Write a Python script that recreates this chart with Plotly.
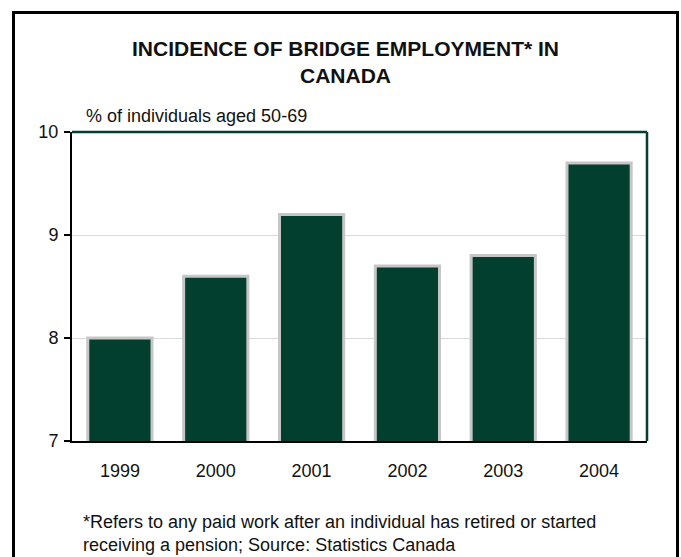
import plotly.graph_objects as go

years = ["1999", "2000", "2001", "2002", "2003", "2004"]
incidence = [8.0, 8.6, 9.2, 8.7, 8.8, 9.7]

title_text = "<b>INCIDENCE OF BRIDGE EMPLOYMENT* IN<br>CANADA</b>"
unit_text = "% of individuals aged 50-69"
note_text = ("*Refers to any paid work after an individual has retired or started<br>"
             "receiving a pension; Source: Statistics Canada")

GREEN = "#023f2f"
FONT = "Liberation Sans, Arial, sans-serif"

fig = go.Figure(
    go.Bar(
        x=years,
        y=incidence,
        width=0.67,
        marker=dict(color=GREEN, line=dict(color="#c6c6c6", width=3)),
        hoverinfo="x+y",
    )
)

W, H = 681, 557
L, R, T, B = 72, 34, 132, 116
pw, ph = W - L - R, H - T - B


def px_x(px):
    return (px - L) / pw


def px_y(py):
    return (H - B - py) / ph


fig.update_layout(
    width=W,
    height=H,
    margin=dict(l=L, r=R, t=T, b=B),
    paper_bgcolor="white",
    plot_bgcolor="white",
    showlegend=False,
    font=dict(family=FONT, size=18, color="#111111"),
    bargap=0.33,
    xaxis=dict(
        type="category",
        showline=True,
        linecolor="black",
        linewidth=2,
        ticks="",
        showgrid=False,
        tickfont=dict(size=18),
        ticklabelstandoff=12,
    ),
    yaxis=dict(
        range=[7, 10],
        dtick=1,
        showline=True,
        linecolor="black",
        linewidth=2,
        ticks="outside",
        ticklen=6,
        tickwidth=1.5,
        tickcolor="black",
        showgrid=True,
        gridcolor="#d9d9d9",
        gridwidth=1,
        zeroline=False,
        tickfont=dict(size=18),
        ticklabelstandoff=2,
    ),
    shapes=[
        # top and right edges of the plotting area
        dict(type="line", xref="paper", yref="paper", x0=0, x1=1, y0=1, y1=1,
             line=dict(color=GREEN, width=2.5)),
        dict(type="line", xref="paper", yref="paper", x0=1, x1=1, y0=0, y1=1,
             line=dict(color=GREEN, width=2.5)),
        # outer frame
        dict(type="rect", xref="paper", yref="paper",
             x0=px_x(13.5), x1=px_x(677.5), y0=px_y(575), y1=px_y(12.5),
             line=dict(color="black", width=3), fillcolor="rgba(0,0,0,0)"),
    ],
    annotations=[
        dict(text=title_text, xref="paper", yref="paper",
             x=px_x(345), y=px_y(62), xanchor="center", yanchor="middle",
             showarrow=False, font=dict(size=21, color="#111111"),
             align="center"),
        dict(text=unit_text, xref="paper", yref="paper",
             x=px_x(84), y=px_y(116), xanchor="left", yanchor="middle",
             showarrow=False, font=dict(size=18)),
        dict(text=note_text, xref="paper", yref="paper",
             x=px_x(81), y=px_y(533), xanchor="left", yanchor="middle",
             showarrow=False, font=dict(size=18), align="left"),
    ],
)

fig.write_html("out.html")
